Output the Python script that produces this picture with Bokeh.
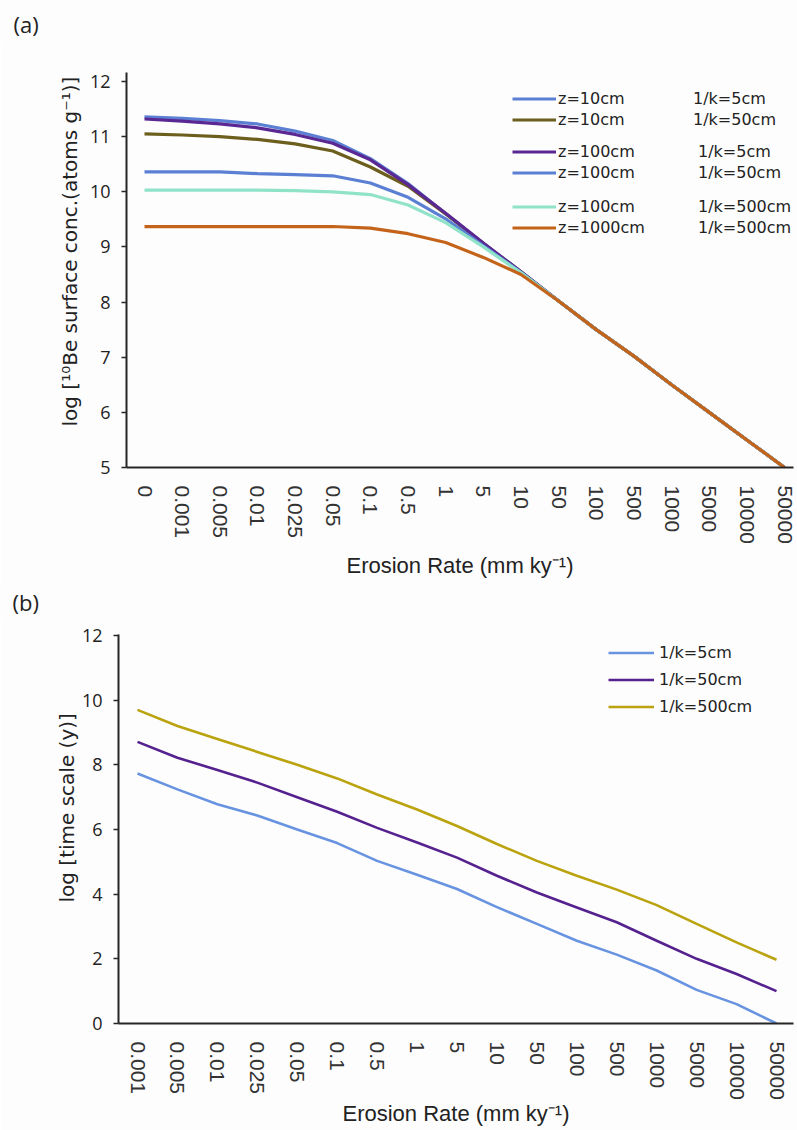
import math
from bokeh.plotting import figure
from bokeh.models import FixedTicker, Range1d, Legend, LegendItem, Title, Label
from bokeh.layouts import column, row
from bokeh.embed import file_html
from bokeh.resources import INLINE

# ---------------- data: panel (a) ----------------
erosion_a = ["0", "0.001", "0.005", "0.01", "0.025", "0.05", "0.1", "0.5", "1", "5",
             "10", "50", "100", "500", "1000", "5000", "10000", "50000"]
z10_k5 = [11.36, 11.33, 11.29, 11.23, 11.10, 10.93, 10.60, 10.15, 9.60, 9.06,
          8.55, 8.02, 7.50, 7.02, 6.50, 6.00, 5.50, 5.00]
z10_k50 = [11.05, 11.03, 11.00, 10.95, 10.87, 10.74, 10.45, 10.10, 9.60, 9.06,
           8.55, 8.02, 7.50, 7.02, 6.50, 6.00, 5.50, 5.00]
z100_k5 = [11.32, 11.28, 11.23, 11.16, 11.04, 10.88, 10.58, 10.13, 9.61, 9.07,
           8.55, 8.02, 7.50, 7.02, 6.50, 6.00, 5.50, 5.00]
z100_k50 = [10.36, 10.36, 10.36, 10.33, 10.31, 10.29, 10.16, 9.90, 9.51, 9.02,
            8.54, 8.02, 7.50, 7.02, 6.50, 6.00, 5.50, 5.00]
z100_k500 = [10.03, 10.03, 10.03, 10.03, 10.02, 10.00, 9.95, 9.76, 9.44, 9.00,
             8.53, 8.02, 7.50, 7.02, 6.50, 6.00, 5.50, 5.00]
z1000_k500 = [9.37, 9.37, 9.37, 9.37, 9.37, 9.37, 9.34, 9.24, 9.08, 8.81,
              8.50, 8.02, 7.50, 7.02, 6.50, 6.00, 5.50, 5.00]
series_a = [z10_k5, z10_k50, z100_k5, z100_k50, z100_k500, z1000_k500]
labels_a_z = ["z=10cm", "z=10cm", "z=100cm", "z=100cm", "z=100cm", "z=1000cm"]
labels_a_k = ["1/k=5cm", "1/k=50cm", "1/k=5cm", "1/k=50cm", "1/k=500cm", "1/k=500cm"]
colors_a = ["#5b80d3", "#6c5f1e", "#5a2892", "#5b80d3", "#90e3c9", "#c4641a"]
yticks_a = [5, 6, 7, 8, 9, 10, 11, 12]

# ---------------- data: panel (b) ----------------
erosion_b = ["0.001", "0.005", "0.01", "0.025", "0.05", "0.1", "0.5", "1", "5",
             "10", "50", "100", "500", "1000", "5000", "10000", "50000"]
k5 = [7.73, 7.24, 6.78, 6.43, 6.00, 5.58, 5.03, 4.60, 4.16, 3.60, 3.08, 2.56,
      2.13, 1.64, 1.04, 0.60, 0.00]
k50 = [8.71, 8.22, 7.84, 7.45, 7.00, 6.55, 6.05, 5.60, 5.13, 4.57, 4.05, 3.59,
       3.13, 2.56, 2.00, 1.53, 1.00]
k500 = [9.70, 9.20, 8.80, 8.40, 8.00, 7.58, 7.08, 6.62, 6.11, 5.55, 5.03, 4.57,
        4.14, 3.66, 3.08, 2.51, 1.97]
series_b = [k5, k50, k500]
labels_b = ["1/k=5cm", "1/k=50cm", "1/k=500cm"]
colors_b = ["#6893e0", "#55218f", "#baa30e"]
yticks_b = [0, 2, 4, 6, 8, 10, 12]

x_title = "Erosion Rate (mm ky\u207b\u00b9)"
y_title_a = "log [\u00b9\u2070Be surface conc.(atoms g\u207b\u00b9)]"
y_title_b = "log [time scale (y)]"

BG = "#fdfdfd"
AX = "#262626"
TXT = "#222222"
W = 797


def style(p, cats, yticks, xtitle_standoff):
    p.background_fill_color = BG
    p.border_fill_color = BG
    p.outline_line_color = None
    p.xgrid.visible = False
    p.ygrid.visible = False
    xa = p.xaxis[0]
    xa.ticker = FixedTicker(ticks=list(range(len(cats))))
    xa.major_label_overrides = {i: c for i, c in enumerate(cats)}
    xa.major_label_orientation = -math.pi / 2
    xa.major_tick_line_color = None
    xa.minor_tick_line_color = None
    xa.axis_line_width = 2
    xa.axis_line_color = AX
    xa.major_label_text_font = "Liberation Sans"
    xa.major_label_text_font_size = "21px"
    xa.major_label_text_color = "#333333"
    xa.major_label_standoff = 12
    xa.axis_label = x_title
    xa.axis_label_text_font = "Liberation Sans"
    xa.axis_label_text_font_size = "22px"
    xa.axis_label_text_font_style = "normal"
    xa.axis_label_text_color = TXT
    xa.axis_label_standoff = xtitle_standoff
    ya = p.yaxis[0]
    ya.ticker = FixedTicker(ticks=yticks)
    ya.minor_tick_line_color = None
    ya.major_tick_out = 5
    ya.major_tick_in = 0
    ya.major_tick_line_width = 1.5
    ya.major_tick_line_color = AX
    ya.axis_line_width = 2
    ya.axis_line_color = AX
    ya.major_label_text_font = "Open Sans"
    ya.major_label_text_font_size = "18px"
    ya.major_label_text_color = TXT
    ya.major_label_standoff = 11


def y_title(p, text, offset, standoff):
    # vertical axis title, placed left of the tick labels
    p.add_layout(Title(text=text, align="left", vertical_align="bottom",
                       offset=offset, standoff=standoff,
                       text_font="DejaVu Sans", text_font_size="20px",
                       text_font_style="normal", text_color=TXT), "left")


def add_legend(p, rends, labels, vx, vy, glyph_w, standoff, row_h):
    lg = Legend(items=[LegendItem(label=l, renderers=[r]) for l, r in zip(labels, rends)],
                location=(vx, vy), orientation="vertical",
                glyph_width=glyph_w, glyph_height=row_h, label_height=row_h,
                spacing=0, padding=0, margin=0, label_standoff=standoff,
                border_line_color=None, background_fill_alpha=0,
                label_text_font="DejaVu Sans", label_text_font_size="16px",
                label_text_color=TXT)
    p.add_layout(lg)


def letter_strip(text, height, x_px, y_center_px):
    # thin strip holding the panel letter, with pixel-like ranges
    f = figure(width=W, height=height, output_backend="svg", toolbar_location=None,
               x_axis_type=None, y_axis_type=None, min_border=0,
               x_range=Range1d(0, W), y_range=Range1d(0, height))
    f.outline_line_color = None
    f.background_fill_color = BG
    f.border_fill_color = BG
    f.add_layout(Label(x=x_px, y=height - y_center_px, text=text,
                       text_font="Open Sans", text_font_size="22px",
                       text_font_style="normal", text_color=TXT,
                       text_align="left", text_baseline="middle"))
    return f


# ---------------- panel (a) ----------------
TOP_A = 42
FL_A, FR_A, FT_A, FB_A = 126, 793, 72, 467     # frame edges (page px)
ua, x0a = (784 - 144) / 17, 144.0                # px per category, x of first
uy_a = (467 - 81) / 7                            # px per unit (5 -> 12)
ta = letter_strip("(a)", TOP_A, 13, 23)
pa = figure(width=W, height=585 - TOP_A, output_backend="svg", toolbar_location=None,
            min_border_left=FL_A, min_border_right=W - FR_A,
            min_border_top=FT_A - TOP_A, min_border_bottom=585 - FB_A,
            x_range=Range1d((FL_A - x0a) / ua, (FR_A - x0a) / ua),
            y_range=Range1d(5, 5 + (FB_A - FT_A) / uy_a))
style(pa, erosion_a, yticks_a, 6)
y_title(pa, y_title_a, 41, 9)
xs_a = list(range(len(erosion_a)))
rends_a = []
for ys, c in zip(series_a, colors_a):
    rends_a.append(pa.line(xs_a, ys, line_color=c, line_width=3.2))

group_tops = [87.5, 140.5, 195.5]
col2_x = [693, 698, 698]
for g in range(3):
    vy = FB_A - (group_tops[g] + 42)
    rr = rends_a[2 * g:2 * g + 2]
    add_legend(pa, rr, labels_a_z[2 * g:2 * g + 2], 512 - FL_A, vy, 44, 2, 21)
    add_legend(pa, rr, labels_a_k[2 * g:2 * g + 2], col2_x[g] - FL_A, vy, 0, 0, 21)

# ---------------- panel (b) ----------------
STRIP_B = 34
TOP_B = 585 + STRIP_B
FL_B, FR_B, FT_B, FB_B = 118, 793, 634, 1023
ub, x0b = (776 - 137) / 16, 137.0
uy_b = (1023 - 635) / 12
tb = letter_strip("(b)", STRIP_B, 12, 16)
pb = figure(width=W, height=1130 - TOP_B, output_backend="svg", toolbar_location=None,
            min_border_left=FL_B, min_border_right=W - FR_B,
            min_border_top=FT_B - TOP_B, min_border_bottom=1130 - FB_B,
            x_range=Range1d((FL_B - x0b) / ub, (FR_B - x0b) / ub),
            y_range=Range1d(0, (FB_B - FT_B) / uy_b))
style(pb, erosion_b, yticks_b, -2)
y_title(pb, y_title_b, 121, 0)
xs_b = list(range(len(erosion_b)))
rends_b = []
for ys, c in zip(series_b, colors_b):
    rends_b.append(pb.line(xs_b, ys, line_color=c, line_width=2.6))

add_legend(pb, rends_b, labels_b, 608 - FL_B, FB_B - (638.5 + 81), 46, 5, 27)

layout = column(row(ta), row(pa), row(tb), row(pb), spacing=0)
open("out.html", "w").write(file_html(layout, INLINE))
